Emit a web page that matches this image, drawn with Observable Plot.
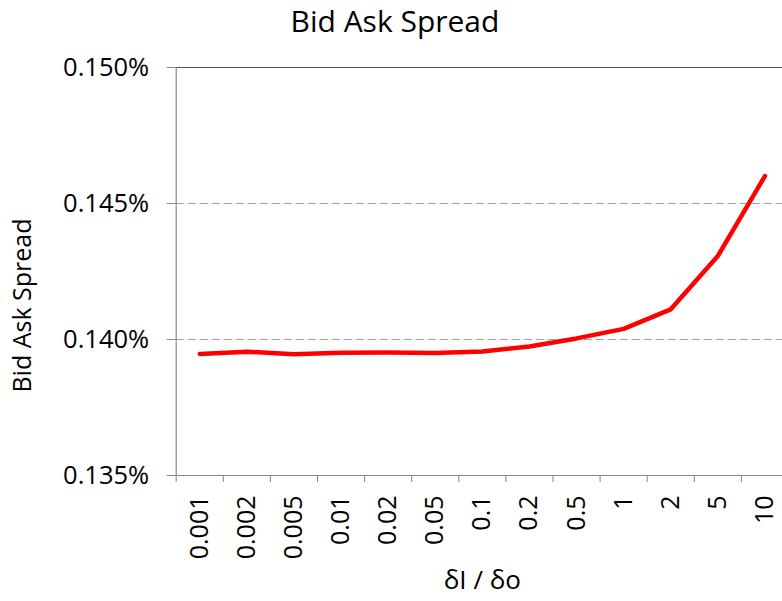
<!DOCTYPE html>
<html>
<head>
<meta charset="utf-8">
<script src="https://cdn.jsdelivr.net/npm/d3@7"></script>
<script src="https://cdn.jsdelivr.net/npm/@observablehq/plot@0.6"></script>
<style>
  html, body { margin: 0; padding: 0; background: #fff; }
</style>
</head>
<body>
<div id="chart"></div>
<script>
const categories = ["0.001","0.002","0.005","0.01","0.02","0.05","0.1","0.2","0.5","1","2","5","10"];
const spread = [0.13947,0.13955,0.13946,0.13951,0.13952,0.13950,0.13956,0.13974,0.14004,0.14039,0.14111,0.14307,0.14601];
const yTicks = [0.135,0.140,0.145,0.150];
const title = "Bid Ask Spread";
const xTitle = "δI / δo";
const yTitle = "Bid Ask Spread";

const data = categories.map((c, i) => ({cat: c, idx: i + 0.5, value: spread[i]}));
const centers = categories.map((c, i) => i + 0.5);
const bounds = d3.range(categories.length + 1);

const font = "'Open Sans', 'DejaVu Sans', sans-serif";
const gray = "#868686";

const chart = Plot.plot({
  width: 782,
  height: 601,
  marginLeft: 175.7,
  marginRight: 0,
  marginTop: 67,
  marginBottom: 126,
  style: {fontFamily: font, fontSize: "25px", color: "#000", background: "#fff"},
  x: {type: "linear", domain: [0, categories.length], range: [175.7, 788]},
  y: {domain: [0.135, 0.150], range: [475, 67]},
  marks: [
    Plot.ruleY([0.140, 0.145], {stroke: "#a0a0a0", strokeWidth: 1.2, strokeDasharray: "8,4"}),
    Plot.ruleY([0.150], {stroke: "#555555", strokeWidth: 1.2}),
    Plot.ruleY([0.135], {stroke: gray, strokeWidth: 1.2}),
    Plot.ruleX([0], {stroke: gray, strokeWidth: 1.2}),
    Plot.axisY({ticks: yTicks, tickSize: 9, tickPadding: 18, stroke: gray, fill: "#000",
      tickFormat: d => d.toFixed(3) + "%", label: null, fontSize: 25.5}),
    Plot.axisX({ticks: bounds, tickSize: 7, stroke: gray, tickFormat: () => "", label: null}),
    Plot.axisX({ticks: centers, tickSize: 0, tickPadding: 20, tickRotate: -90, fill: "#000",
      tickFormat: d => categories[Math.floor(d)], label: null, fontSize: 25}),
    Plot.line(data, {x: "idx", y: "value", stroke: "#ff0000", strokeWidth: 4.5,
      strokeLinejoin: "round", strokeLinecap: "round"}),
    Plot.text([title], {frameAnchor: "top", textAnchor: "middle", lineAnchor: "middle",
      dx: -84.4, dy: -45, fontSize: 30, fill: "#000"}),
    Plot.text([xTitle], {frameAnchor: "bottom", textAnchor: "middle", lineAnchor: "middle",
      dx: 3, dy: 105, fontSize: 26, fill: "#000"}),
    Plot.text([yTitle], {frameAnchor: "left", textAnchor: "middle", lineAnchor: "middle",
      rotate: -90, dx: -153, dy: 34, fontSize: 25, fill: "#000"})
  ]
});
document.getElementById("chart").appendChild(chart);
</script>
</body>
</html>
